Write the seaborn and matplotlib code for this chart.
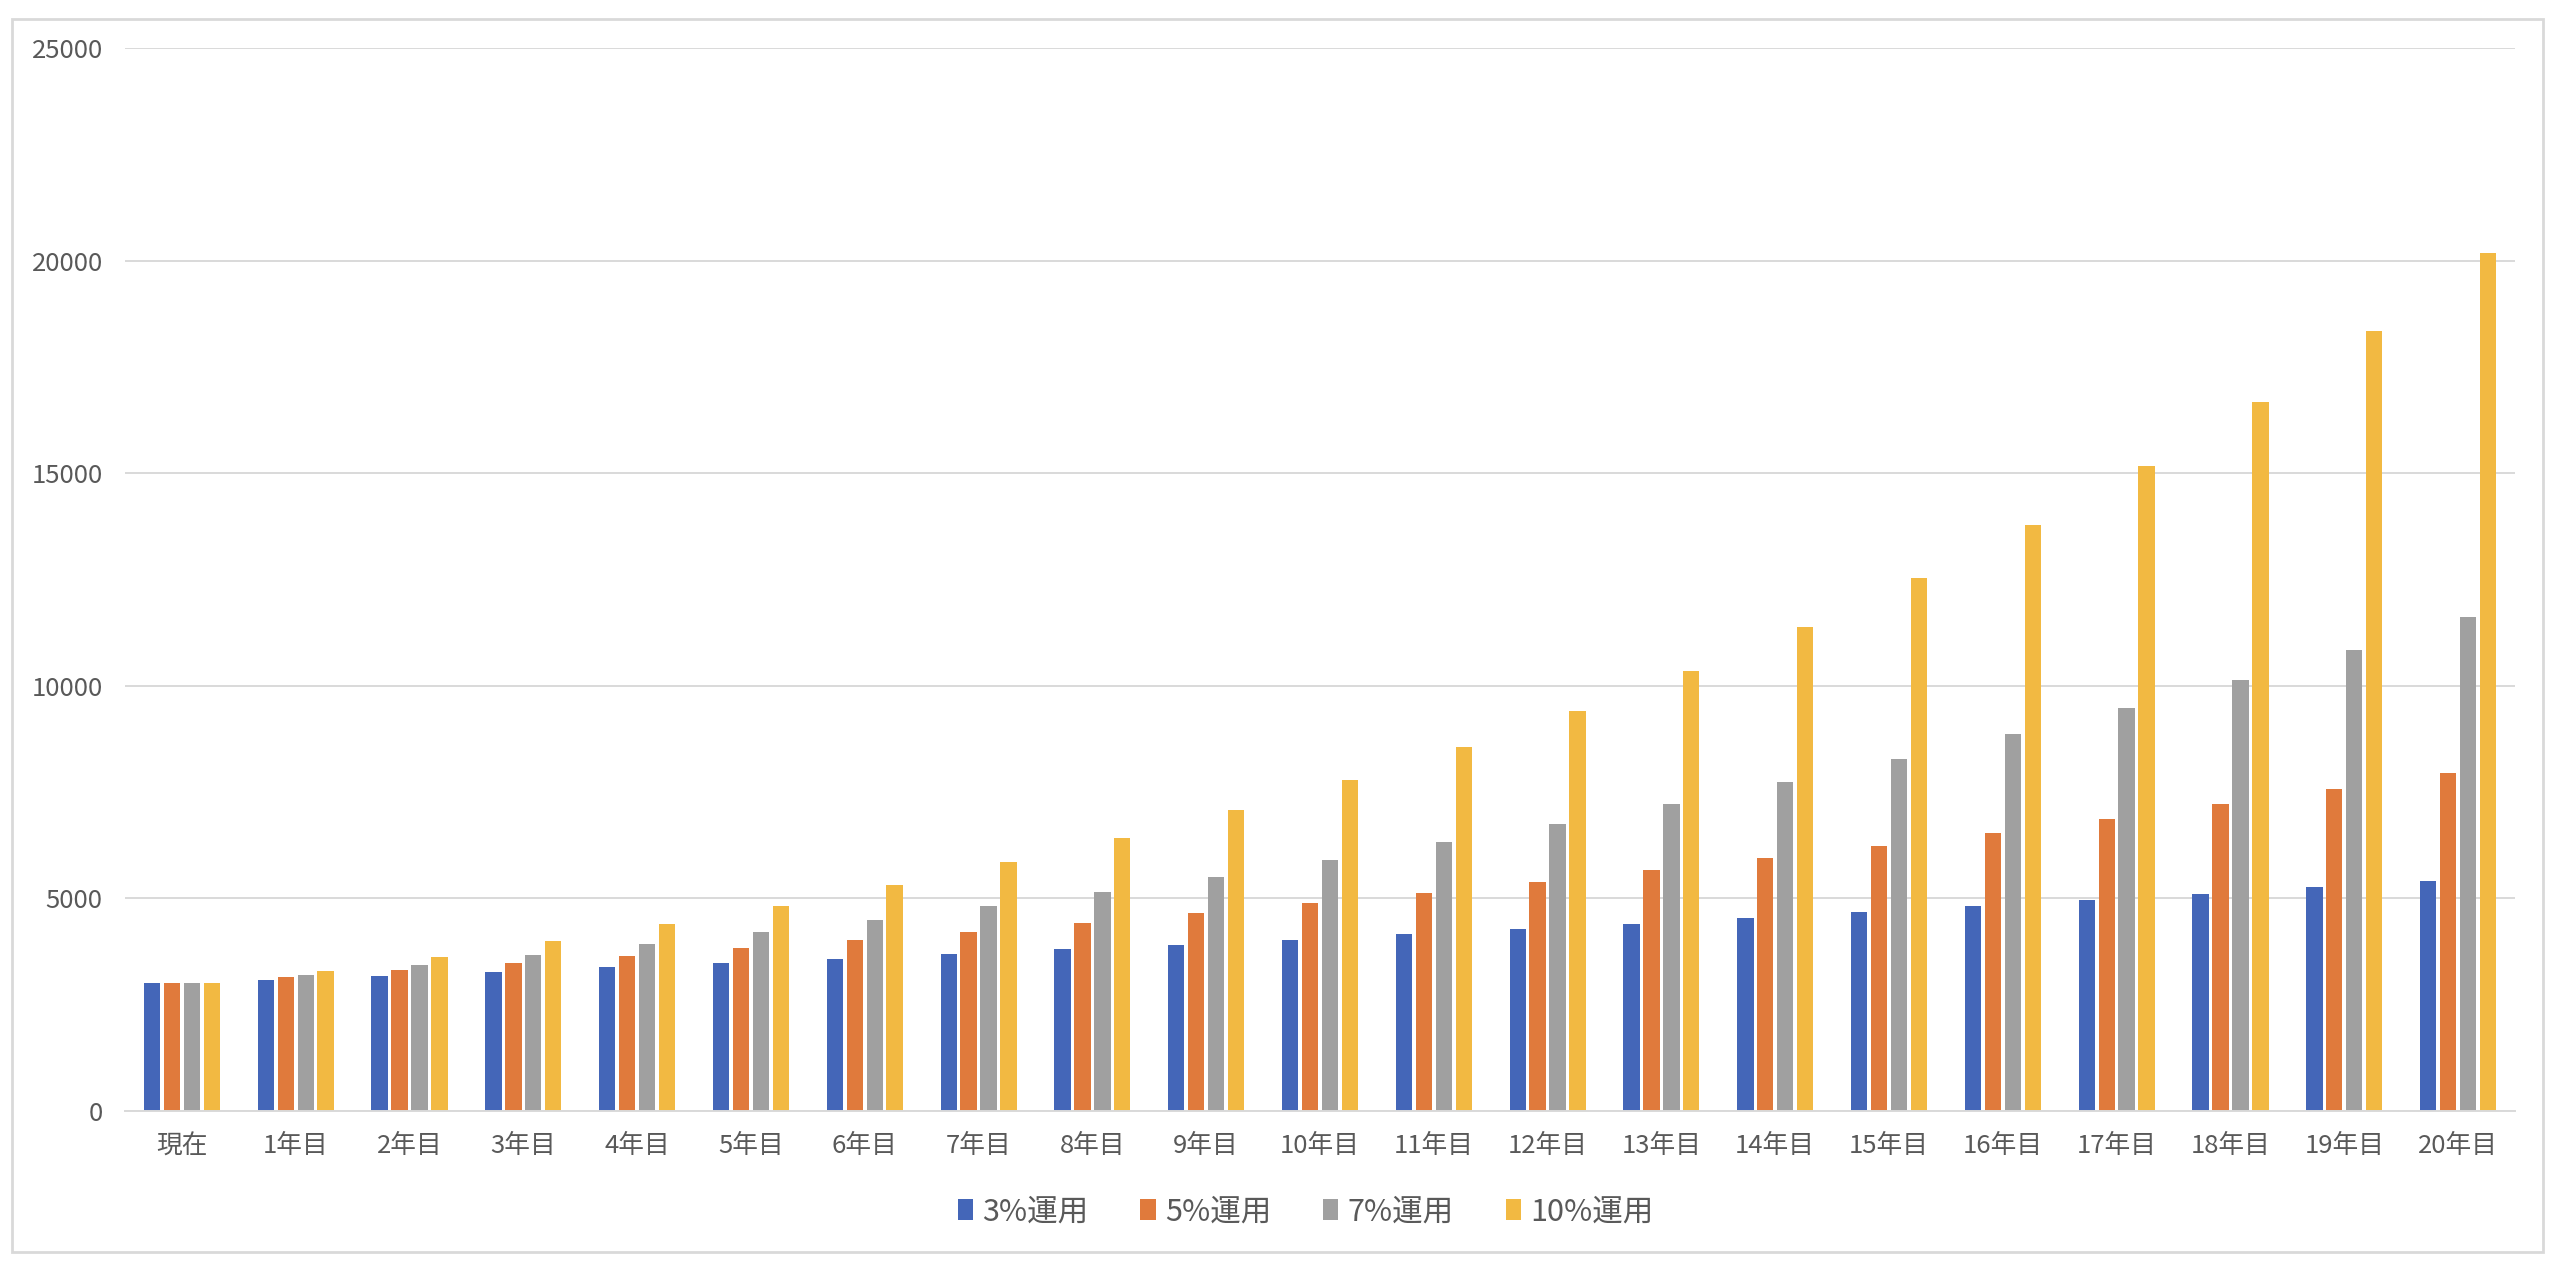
import matplotlib
matplotlib.use("Agg")
import matplotlib.pyplot as plt
import seaborn as sns
import pandas as pd
from matplotlib.patches import Rectangle

categories = ["現在"] + [f"{i}年目" for i in range(1, 21)]
series_names = ["3%運用", "5%運用", "7%運用", "10%運用"]
r3 = [3000, 3090, 3183, 3278, 3377, 3478, 3582, 3690, 3800, 3914, 4032,
      4153, 4277, 4406, 4538, 4674, 4814, 4959, 5107, 5261, 5418]
r5 = [3000, 3150, 3308, 3473, 3647, 3829, 4020, 4221, 4433, 4654, 4887,
      5131, 5388, 5657, 5940, 6237, 6549, 6876, 7220, 7581, 7960]
r7 = [3000, 3210, 3435, 3675, 3932, 4208, 4502, 4817, 5155, 5515, 5901,
      6315, 6757, 7229, 7736, 8277, 8856, 9476, 10140, 10849, 11609]
r10 = [3000, 3300, 3630, 3993, 4392, 4832, 5315, 5846, 6431, 7074, 7781,
       8559, 9415, 10357, 11392, 12532, 13785, 15163, 16679, 18347, 20182]
y_ticks = [0, 5000, 10000, 15000, 20000, 25000]
colors = ["#4466B8", "#E07A3C", "#A0A0A0", "#F2B942"]

rows = []
for name, vals in zip(series_names, [r3, r5, r7, r10]):
    for c, v in zip(categories, vals):
        rows.append({"cat": c, "series": name, "value": v})
df = pd.DataFrame(rows)

sns.set_theme(style="white")
plt.rcParams["font.family"] = ["Noto Sans CJK JP", "DejaVu Sans"]

W, H = 2560, 1272
fig = plt.figure(figsize=(W / 100, H / 100), dpi=100)
fig.patch.set_facecolor("white")

# chart border
fig.add_artist(Rectangle((12 / W, 1 - 1252 / H), (2543 - 12) / W, (1252 - 19) / H,
                         transform=fig.transFigure, fill=False,
                         edgecolor="#D9D9D9", linewidth=2.0))

ax = fig.add_axes([125 / W, 1 - 1111 / H, (2515 - 125) / W, (1111 - 48) / H])
sns.barplot(data=df, x="cat", y="value", hue="series", order=categories,
            hue_order=series_names, palette=colors, width=0.7, gap=0.18,
            saturation=1, ax=ax, legend=True, linewidth=0, edgecolor="none")

ax.set_xlim(-0.5, len(categories) - 0.5)
ax.set_ylim(0, 25000)
ax.set_yticks(y_ticks)
ax.set_yticklabels([str(t) for t in y_ticks])
ax.yaxis.grid(True, color="#D9D9D9", linewidth=1.4)
ax.set_axisbelow(True)
for s in ["top", "right", "left"]:
    ax.spines[s].set_visible(False)
ax.spines["bottom"].set_color("#D9D9D9")
ax.spines["bottom"].set_linewidth(1.4)
ax.set_xlabel("")
ax.set_ylabel("")
ax.tick_params(axis="y", length=0, pad=16, labelsize=18.5, labelcolor="#595959")
ax.tick_params(axis="x", length=0, pad=16, labelsize=18.5, labelcolor="#595959")

handles, labels = ax.get_legend_handles_labels()
ax.legend(handles, labels, loc="center", bbox_to_anchor=(0.494, -0.095),
          ncol=4, frameon=False, fontsize=22, handlelength=0.5, handleheight=0.7,
          handletextpad=0.3, columnspacing=1.7, labelcolor="#595959")

fig.savefig("out.png", dpi=100, facecolor="white")
